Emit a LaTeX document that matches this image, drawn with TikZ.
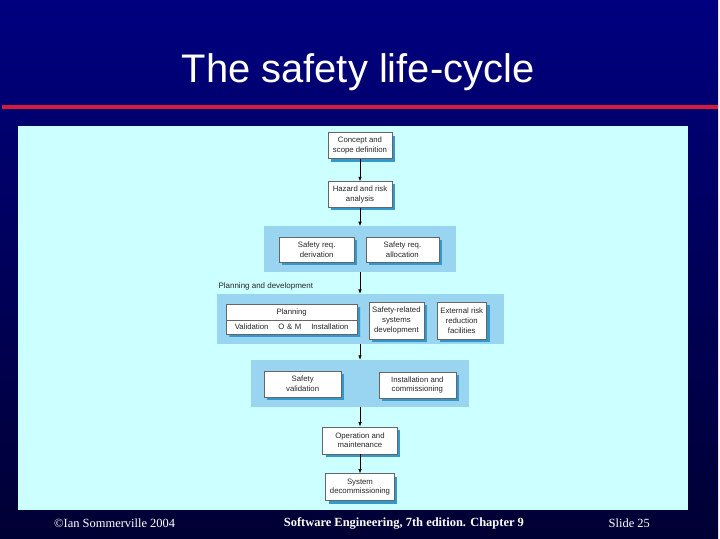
\documentclass[tikz,border=0pt]{standalone}
\usepackage{fontspec}
\setmainfont{Liberation Serif}
\setsansfont{Liberation Sans}
\usetikzlibrary{arrows.meta,shadows,shapes.multipart}

\definecolor{slidetop}{RGB}{0,0,128}
\definecolor{slidebottom}{RGB}{0,0,52}
\definecolor{titlerule}{RGB}{215,25,60}
\definecolor{sheet}{RGB}{204,255,255}
\definecolor{groupblue}{RGB}{153,212,240}
\definecolor{boxshadow}{RGB}{51,153,204}

\begin{document}
\begin{tikzpicture}[
    x=1pt, y=-1pt,
    every node/.style={
        font=\sffamily\fontsize{7.8}{9.8}\selectfont,
        text=black!85,
        align=center,
        inner sep=0pt
    },
    stage/.style={
        draw=black!60,
        line width=0.4pt,
        fill=white,
        rectangle,
        drop shadow={shadow xshift=3pt, shadow yshift=-3pt, fill=boxshadow, opacity=1}
    },
    group/.style={
        fill=groupblue,
        rectangle
    },
    footer/.style={
        font=\rmfamily\fontsize{12.5}{14}\selectfont,
        text=white
    },
    flow/.style={
        -{Latex[length=4.5pt,width=3.5pt]},
        line width=0.7pt,
        black
    }
]

\shade[top color=slidetop, bottom color=slidebottom] (0,0) rectangle (720,540);
\node[font=\sffamily\fontsize{40}{44}\selectfont, text=white, anchor=base] (title) at (359,83) {The safety life-cycle};
\draw[titlerule, line width=4pt] (2,107) -- (720,107);
\fill[sheet] (18,126) rectangle (690,511);

\node[group, minimum width=192, minimum height=46] (reqs) at (361,250) {};
\node[group, minimum width=287, minimum height=50] (develop) at (361.5,320) {};
\node[group, minimum width=218, minimum height=47] (checks) at (361,384.5) {};
\node[anchor=west, font=\sffamily\fontsize{8}{10}\selectfont] (devlabel) at (219,287) {Planning and development};

\node[stage, minimum width=64, minimum height=26] (concept) at (361,146) {Concept and\\scope definition};
\node[stage, minimum width=64, minimum height=26] (hazard) at (361,195) {Hazard and risk\\analysis};
\node[stage, minimum width=75, minimum height=25] (derive) at (317.5,250.5) {Safety req.\\derivation};
\node[stage, minimum width=73, minimum height=25] (allocate) at (403.5,250.5) {Safety req.\\allocation};
\node[stage, rectangle split, rectangle split parts=2, text width=125pt,
      inner xsep=3pt, inner ysep=4pt] (planning) at (292.5,320)
    {Planning\nodepart{second}Validation\hspace{10pt}O \& M\hspace{10pt}Installation};
\node[stage, minimum width=55, minimum height=37] (related) at (397.5,321.5) {Safety-related\\systems\\development};
\node[stage, minimum width=50, minimum height=37] (external) at (463,321.5) {External risk\\reduction\\facilities};
\node[stage, minimum width=77, minimum height=26] (validate) at (303.5,385) {Safety\\validation};
\node[stage, minimum width=77, minimum height=26] (install) at (418.5,386) {Installation and\\commissioning};
\node[stage, minimum width=75, minimum height=27] (operate) at (361,441.5) {Operation and\\maintenance};
\node[stage, minimum width=69, minimum height=27] (decommission) at (361,488.5) {System\\decommissioning};

\draw[flow] (concept.south) -- (hazard.north);
\draw[flow] (hazard.south) -- (hazard.south |- reqs.north);
\draw[flow] (reqs.south) -- (reqs.south |- develop.north);
\draw[flow] (develop.south -| reqs.south) -- (reqs.south |- checks.north);
\draw[flow] (checks.south) -- (operate.north);
\draw[flow] (operate.south) -- (decommission.north);

\node[footer] (author) at (115,525) {\textcopyright Ian Sommerville 2004};
\node[footer, font=\rmfamily\bfseries\fontsize{12.5}{14}\selectfont] (book) at (405,525) {Software Engineering, 7th edition. Chapter 9};
\node[footer] (slide) at (631,525) {Slide 25};

\end{tikzpicture}
\end{document}
